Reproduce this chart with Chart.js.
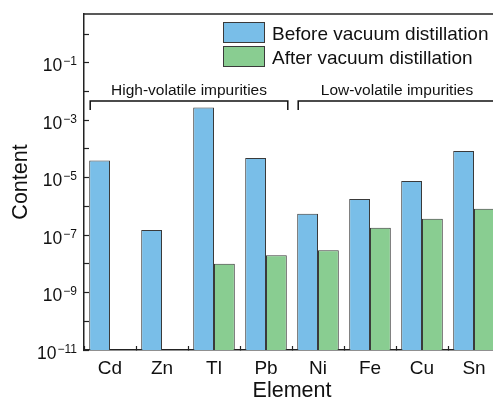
<!DOCTYPE html>
<html>
<head>
<meta charset="utf-8">
<script src="https://cdn.jsdelivr.net/npm/chart.js@4.4.1/dist/chart.umd.min.js"></script>
<style>
  html, body { margin: 0; padding: 0; background: #fff; overflow: hidden; }
  #wrap { position: relative; width: 504px; height: 400px; }
</style>
</head>
<body>
<div id="wrap"><canvas id="myChart"></canvas></div>
<script>
// impurity content before / after vacuum distillation (log scale)
var elements = ["Cd", "Zn", "Tl", "Pb", "Ni", "Fe", "Cu", "Sn"];
var beforeValues = [4e-5, 1.5e-7, 2.8e-3, 4.8e-5, 5.5e-7, 1.8e-6, 7.7e-6, 8.5e-5];
var afterValues = [null, null, 1e-8, 2e-8, 3e-8, 1.8e-7, 3.7e-7, 8.2e-7];
var decades = [-11, -10, -9, -8, -7, -6, -5, -4, -3, -2, -1, 0];
var labelledDecades = [-11, -9, -7, -5, -3, -1];
var groups = [
  { label: "High-volatile impurities", from: 0, to: 3 },
  { label: "Low-volatile impurities", from: 4, to: 7 }
];

const FONT = '"Liberation Sans", Arial, Helvetica, sans-serif';
Chart.defaults.font.family = FONT;
Chart.defaults.color = '#111';

// frame top line, 10^n labels, legend box and the group brackets
const extras = {
  id: 'extras',
  afterDraw(chart) {
    const ctx = chart.ctx, a = chart.chartArea, y = chart.scales.y;
    ctx.save();
    ctx.strokeStyle = '#222';
    ctx.lineWidth = 1.5;
    ctx.beginPath();
    ctx.moveTo(a.left, a.top);
    ctx.lineTo(a.right, a.top);
    ctx.stroke();

    ctx.fillStyle = '#111';
    ctx.textBaseline = 'alphabetic';
    ctx.textAlign = 'right';
    labelledDecades.forEach(e => {
      const py = y.getPixelForValue(Math.pow(10, e));
      const sup = '\u2212' + Math.abs(e);
      ctx.font = '12px ' + FONT;
      ctx.fillText(sup, a.left - 7, py + 2.5);
      const w = ctx.measureText(sup).width;
      ctx.font = '17.5px ' + FONT;
      ctx.fillText('10', a.left - 7 - w - 1, py + 8.5);
    });

    chart.data.datasets.forEach((ds, i) => {
      const bx = a.left + 139, by = a.top + 8 + i * 24;
      ctx.fillStyle = ds.backgroundColor;
      ctx.fillRect(bx, by, 42, 21);
      ctx.strokeStyle = ds.borderColor;
      ctx.lineWidth = 1;
      ctx.strokeRect(bx + 0.5, by + 0.5, 41, 20);
      ctx.fillStyle = '#111';
      ctx.font = '19px ' + FONT;
      ctx.textAlign = 'left';
      ctx.fillText(ds.label, bx + 49, by + 17.5);
    });

    const m0 = chart.getDatasetMeta(0), m1 = chart.getDatasetMeta(1);
    groups.forEach(g => {
      const b0 = m0.data[g.from], b1 = m1.data[g.to];
      const x0 = b0.x - b0.width / 2 + 1, x1 = b1.x + b1.width / 2 + 1;
      const ly = a.top + 87;
      ctx.strokeStyle = '#111';
      ctx.lineWidth = 1.5;
      ctx.beginPath();
      ctx.moveTo(x0, ly + 9);
      ctx.lineTo(x0, ly);
      ctx.lineTo(x1, ly);
      ctx.lineTo(x1, ly + 9);
      ctx.stroke();
      ctx.font = '15.5px ' + FONT;
      ctx.textAlign = 'center';
      ctx.fillStyle = '#111';
      ctx.fillText(g.label, (x0 + x1) / 2, a.top + 80.5);
    });
    ctx.restore();
  }
};

const myChart = new Chart("myChart", {
  type: "bar",
  data: {
    labels: elements,
    datasets: [
    {
      label: "Before vacuum distillation",
      data: beforeValues,
      backgroundColor: "#79BEE8",
      borderColor: "#3a3a3a",
      borderWidth: 1
    },
    {
      label: "After vacuum distillation",
      data: afterValues,
      backgroundColor: "#89CD91",
      borderColor: "#3a3a3a",
      borderWidth: 1
    }]
  },
  options: {
    animation: false,
    responsive: true,
    maintainAspectRatio: false,
    categoryPercentage: 0.8,
    barPercentage: 1,
    layout: { padding: { top: 14, right: 4, left: 0, bottom: 0 } },
    plugins: { legend: { display: false }, tooltip: { enabled: false } },
    scales: {
      x: {
        offset: true,
        grid: { offset: true, drawOnChartArea: false, tickLength: -4, color: '#222', tickWidth: 1.2 },
        border: { color: '#222', width: 1.5 },
        ticks: { color: '#111', font: { size: 19 }, padding: 11 },
        title: { display: true, text: 'Element', color: '#111', font: { size: 21.5, lineHeight: 0.8 }, padding: 0 },
        afterFit: s => { s.height = 50; }
      },
      y: {
        type: 'logarithmic',
        min: 1e-11,
        max: 5,
        afterBuildTicks: s => { s.ticks = decades.map(e => ({ value: Math.pow(10, e) })); },
        ticks: { display: false },
        grid: { drawOnChartArea: false, tickLength: -5, color: '#222', tickWidth: 1.2 },
        border: { color: '#222', width: 1.5 },
        title: { display: true, text: 'Content', color: '#111', font: { size: 21.5, lineHeight: 0.8 }, padding: { top: 12, bottom: 0 } },
        afterFit: s => { s.width = 84; }
      }
    }
  },
  plugins: [extras]
});
</script>
</body>
</html>
